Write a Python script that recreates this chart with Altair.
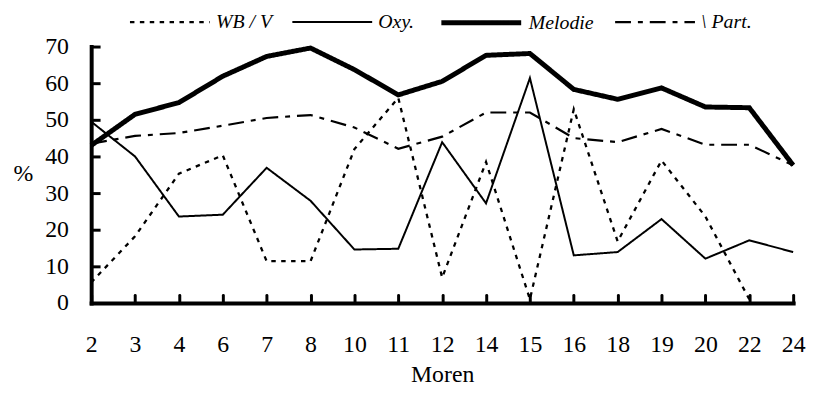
import altair as alt
import pandas as pd

moren = ["2", "3", "4", "6", "7", "8", "10", "11", "12", "14", "15", "16", "18", "19", "20", "22", "24"]
wbv = [5.6, 18.2, 35.3, 40.3, 11.4, 11.4, 42.0, 56.0, 6.9, 38.5, 1.0, 52.9, 16.8, 38.9, 23.6, 1.0, None]
oxy = [49.5, 40.0, 23.6, 24.1, 36.9, 27.9, 14.6, 14.8, 43.9, 27.2, 61.4, 13.0, 13.9, 22.9, 12.1, 17.1, 13.9]
melodie = [43.0, 51.5, 54.7, 61.9, 67.3, 69.6, 63.7, 56.8, 60.5, 67.6, 68.1, 58.3, 55.6, 58.7, 53.5, 53.3, 37.6]
part = [43.5, 45.6, 46.4, 48.4, 50.5, 51.3, 47.9, 42.1, 45.4, 52.0, 52.0, 45.0, 43.9, 47.5, 43.2, 43.2, 37.6]
series = ["WB / V", "Oxy.", "Melodie", "\\ Part."]
y_ticks = [0, 10, 20, 30, 40, 50, 60, 70]

rows = []
for name, vals in zip(series, [wbv, oxy, melodie, part]):
    for i, (m, v) in enumerate(zip(moren, vals)):
        if v is not None:
            rows.append({"moren": m, "value": v, "series": name, "order": i})
df = pd.DataFrame(rows)

FONT = "Liberation Serif"

legend = alt.Legend(
    title=None, orient="none", direction="horizontal",
    legendX=38, legendY=-67,
    symbolType="stroke", symbolSize=6500, symbolStrokeColor="black",
    labelFont=FONT, labelFontStyle="italic", labelFontSize=20, labelColor="black",
    columnPadding=16, labelOffset=5,
)

x_main = alt.X("moren:O", sort=moren, scale=alt.Scale(type="point", padding=0),
               axis=alt.Axis(title="Moren", labelAngle=0, labelFont=FONT, labelFontSize=24,
                             labelColor="black", titleFont=FONT, titleFontSize=24,
                             titleFontWeight="normal", titleColor="black", titlePadding=6,
                             ticks=False, tickSize=0, labelPadding=30,
                             domainColor="black", domainWidth=4, domainCap="square", grid=False))
y_main = alt.Y("value:Q", scale=alt.Scale(domain=[0, 70]),
               axis=alt.Axis(title="%", titleAngle=0, titleFont=FONT, titleFontSize=24,
                             titleFontWeight="normal", titleColor="black",
                             titleX=-69, titleY=128, titleAlign="center", titleBaseline="middle",
                             values=y_ticks, labelFont=FONT, labelFontSize=24, labelColor="black",
                             ticks=False, tickSize=0, labelPadding=23,
                             domainColor="black", domainWidth=4, domainCap="square", grid=False))

lines = alt.Chart(df).mark_line(color="black").encode(
    x=x_main,
    y=y_main,
    order="order:Q",
    strokeDash=alt.StrokeDash("series:N", sort=series,
                              scale=alt.Scale(domain=series, range=[[4.5, 5.5], [1, 0], [1, 0], [16, 7, 5, 7]]),
                              legend=legend),
    strokeWidth=alt.StrokeWidth("series:N", sort=series,
                                scale=alt.Scale(type="ordinal", domain=series, range=[2.3, 2, 5, 2.2]),
                                legend=legend),
)

ticks = alt.Chart(df).mark_line(opacity=0).encode(
    x=alt.X("moren:O", sort=moren, scale=alt.Scale(type="point", padding=0),
            axis=alt.Axis(title=None, labels=False, domain=False, offset=-8, tickSize=8,
                          tickWidth=3, tickColor="black", tickCap="round", grid=False, orient="bottom")),
    y=alt.Y("value:Q", scale=alt.Scale(domain=[0, 70]),
            axis=alt.Axis(title=None, labels=False, domain=False, offset=-9, tickSize=9, values=y_ticks,
                          tickWidth=3, tickColor="black", tickCap="butt", grid=False, orient="left")),
    detail="series:N",
)

chart = alt.layer(lines, ticks).resolve_axis(x="independent", y="independent").properties(
    width=709, height=259,
    autosize=alt.AutoSizeParams(type="none"),
    padding={"left": 84, "top": 37, "right": 16, "bottom": 90},
).configure_view(stroke=None)

chart.save("out.html", embed_options={"renderer": "svg", "actions": False})
